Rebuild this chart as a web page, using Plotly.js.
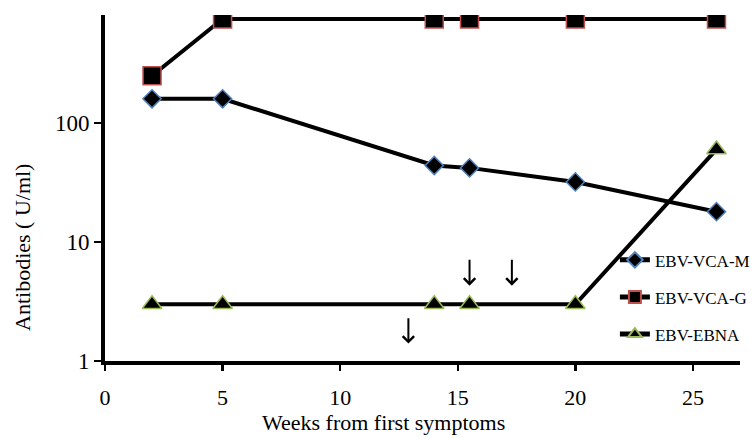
<!DOCTYPE html>
<html>
<head>
<meta charset="utf-8">
<script src="https://cdn.plot.ly/plotly-3.0.1.min.js"></script>
<style>
html,body{margin:0;padding:0;background:#fff;}
#chart{width:756px;height:438px;}
#chart text{font-family:"Liberation Serif","Times New Roman",serif !important;}
</style>
</head>
<body>
<div id="chart"></div>
<script>
// Data
var weeks = [2, 5, 14, 15.5, 20, 26];
var vcaM = [160, 160, 44, 42, 32, 18];
var vcaG = [250, 750, 750, 750, 750, 750];
var ebna = [3, 3, 3, 3, 3, 60];
var seriesNames = ["EBV-VCA-M", "EBV-VCA-G", "EBV-EBNA"];
// Arrows (week, tail value, tip value)
var arrowWeeks = [12.9, 15.5, 17.3];
var arrowTail = [2.35, 7.3, 7.3];
var arrowTip = [1.4, 4.3, 4.3];
var yTickVals = [1, 10, 100];
var yTickText = ["1", "10", "100"];
var xTitle = "Weeks from first symptoms";
var yTitle = "Antibodies ( U/ml)";

var serif = "Liberation Serif";

var traces = [
  {x: weeks, y: vcaM, name: seriesNames[0], mode: "lines+markers", legendgroup: "a",
   line: {color: "#000", width: 4},
   marker: {symbol: "diamond", size: 14, color: "#000", line: {color: "#4F81BD", width: 1.5}}},
  {x: weeks, y: vcaG, name: seriesNames[1], mode: "lines+markers", legendgroup: "b",
   line: {color: "#000", width: 4},
   marker: {symbol: "square", size: 18, color: "#000", line: {color: "#C0504D", width: 1.5}}},
  {x: weeks, y: ebna, name: seriesNames[2], mode: "lines+markers", legendgroup: "c",
   line: {color: "#000", width: 4},
   marker: {symbol: "triangle-up", size: 17, color: "#000", line: {color: "#9BBB59", width: 1.5}}}
];

var annotations = arrowWeeks.map(function (w, i) {
  return {
    x: w, y: Math.log10(arrowTip[i]), xref: "x", yref: "y",
    ax: w, ay: Math.log10(arrowTail[i]), axref: "x", ayref: "y",
    showarrow: true, arrowhead: 4, arrowsize: 1.1, arrowwidth: 2, arrowcolor: "#000", text: ""
  };
});
// Axis titles (placed like the reference, offset from the plot centre)
annotations.push({text: xTitle, xref: "paper", yref: "paper", x: 0.439, y: -0.179,
  xanchor: "center", yanchor: "middle", showarrow: false,
  font: {family: serif, size: 22, color: "#000"}});
annotations.push({text: yTitle, xref: "paper", yref: "paper", x: -0.131, y: 0.329,
  xanchor: "center", yanchor: "middle", textangle: -90, showarrow: false,
  font: {family: serif, size: 22, color: "#000"}});

var layout = {
  width: 756, height: 438,
  margin: {l: 105, r: 16, t: 15, b: 77, autoexpand: false},
  paper_bgcolor: "#fff", plot_bgcolor: "#fff",
  font: {family: serif, color: "#000"},
  showlegend: true,
  legend: {x: 0.803, xanchor: "left", y: 0.343, yanchor: "top", traceorder: "grouped",
           tracegroupgap: 12, itemsizing: "constant", font: {family: serif, size: 17, color: "#000"},
           bgcolor: "rgba(0,0,0,0)"},
  xaxis: {range: [0, 27], dtick: 5, tick0: 0, showgrid: false, zeroline: false,
          showline: true, linecolor: "#000", linewidth: 4, ticks: "outside", ticklen: 6,
          tickwidth: 2.5, tickcolor: "#000", ticklabelstandoff: 8,
          tickfont: {family: serif, size: 22, color: "#000"}},
  yaxis: {type: "log", range: [0, Math.log10(810)], tickvals: yTickVals, ticktext: yTickText,
          showgrid: false, zeroline: false, showline: true, linecolor: "#000", linewidth: 4,
          ticks: "outside", ticklen: 7, tickwidth: 2.5, tickcolor: "#000",
          tickfont: {family: serif, size: 23, color: "#000"}},
  annotations: annotations
};

Plotly.newPlot("chart", traces, layout, {displayModeBar: false, staticPlot: true});
</script>
</body>
</html>
